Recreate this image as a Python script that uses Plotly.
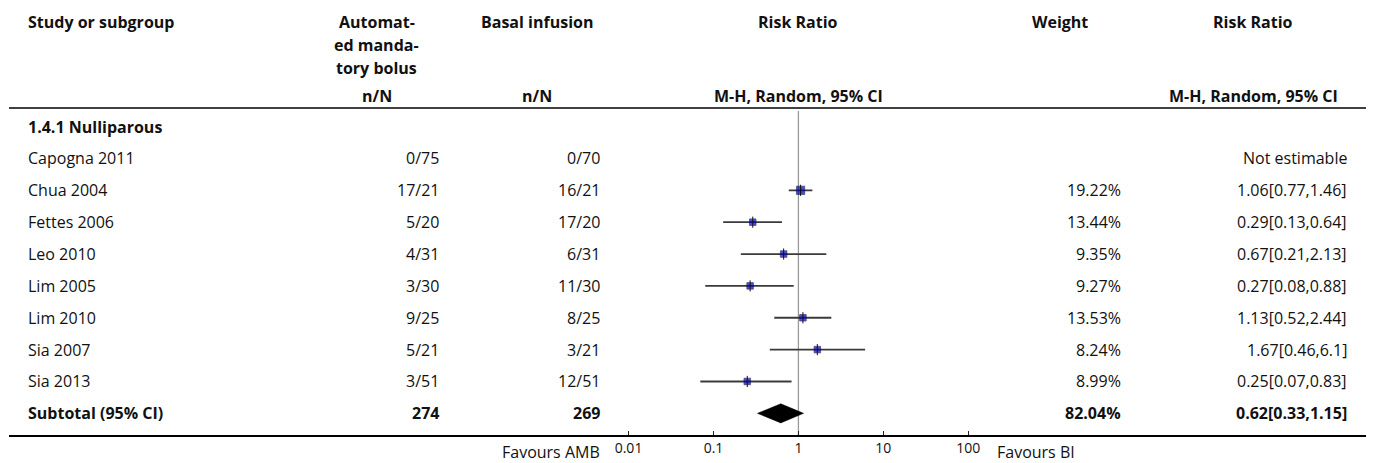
import math
import plotly.graph_objects as go

# ---------------- data ----------------
studies = ["Capogna 2011", "Chua 2004", "Fettes 2006", "Leo 2010", "Lim 2005",
           "Lim 2010", "Sia 2007", "Sia 2013"]
amb_nN = ["0/75", "17/21", "5/20", "4/31", "3/30", "9/25", "5/21", "3/51"]
bi_nN = ["0/70", "16/21", "17/20", "6/31", "11/30", "8/25", "3/21", "12/51"]
weights = [None, 19.22, 13.44, 9.35, 9.27, 13.53, 8.24, 8.99]
rr = [None, 1.06, 0.29, 0.67, 0.27, 1.13, 1.67, 0.25]
ci_lo = [None, 0.77, 0.13, 0.21, 0.08, 0.52, 0.46, 0.07]
ci_hi = [None, 1.46, 0.64, 2.13, 0.88, 2.44, 6.1, 0.83]

subgroup = "1.4.1 Nulliparous"
sub_amb_total = 274
sub_bi_total = 269
sub_weight = 82.04
sub_rr, sub_lo, sub_hi = 0.62, 0.33, 1.15

tick_vals = [0.01, 0.1, 1, 10, 100]
tick_text = ["0.01", "0.1", "1", "10", "100"]
left_label = "Favours AMB"
right_label = "Favours BI"

# ---------------- geometry helpers ----------------
OFF = 8                      # page body margin
W, H = 1375 - OFF, 463 - OFF
FONT = "Open Sans, Noto Sans, sans-serif"
TXT = "#111111"
FS = 16

def px(x):  # screen pixel -> paper x
    return (x - OFF) / W

AXIS_Y = 436
def py(y):  # screen pixel -> paper y
    return (H - (y - OFF)) / H

ROW0 = 126.6   # screen pixel centre of the subgroup heading row
ROWH = 31.86
y_top = (OFF - ROW0) / ROWH
y_bot = (AXIS_Y - ROW0) / ROWH

# rows: subgroup heading = 0, studies 1..8, subtotal 9
study_rows = [i + 1 for i in range(len(studies))]
sub_row = len(studies) + 1

fig = go.Figure()

# CI lines
cx, cy = [], []
for r, lo, hi in zip(study_rows, ci_lo, ci_hi):
    if lo is None:
        continue
    cx += [lo, hi, None]
    cy += [r, r, None]
fig.add_trace(go.Scatter(x=cx, y=cy, mode="lines",
                         line=dict(color="#3a3a3a", width=1.8),
                         hoverinfo="skip", showlegend=False))

# squares
sx = [v for v in rr if v is not None]
sy = [r for r, v in zip(study_rows, rr) if v is not None]
sw = [w for w in weights if w is not None]
sizes = [max(6.5, w * 0.43) for w in sw]
fig.add_trace(go.Scatter(x=sx, y=sy, mode="markers",
                         marker=dict(symbol="square", size=sizes, color="#0000cc",
                                     line=dict(width=0.8, color="#000033")),
                         hoverinfo="skip", showlegend=False))
# point estimate tick
fig.add_trace(go.Scatter(x=sx, y=sy, mode="markers",
                         marker=dict(symbol="line-ns", size=8,
                                     line=dict(width=1, color="#111111")),
                         hoverinfo="skip", showlegend=False))

# diamond
dh = 0.3
fig.add_trace(go.Scatter(x=[sub_lo, sub_rr, sub_hi, sub_rr, sub_lo],
                         y=[sub_row, sub_row - dh, sub_row, sub_row + dh, sub_row],
                         mode="lines", fill="toself", fillcolor="#000000",
                         line=dict(color="#000000", width=0.5),
                         hoverinfo="skip", showlegend=False))

ann = []
def text(x, y, s, xanchor="left", bold=False, yref="paper", size=FS):
    ann.append(dict(x=x, y=y, xref="paper", yref=yref, text=("<b>%s</b>" % s) if bold else s,
                    showarrow=False, xanchor=xanchor, yanchor="middle",
                    font=dict(family=FONT, size=size, color=TXT)))

# column positions (screen pixels)
C1L = 22
C2C, C2R = 374, 439
C3C, C3R = 535, 600
C4C = 797
C5C, C5R = 1060, 1123
C6C, C6R = 1254, 1350

# header
text(px(C1L), py(22), "Study or subgroup", bold=True)
text(px(C2C), py(22), "Automat-", "center", True)
text(px(C2C), py(45), "ed manda-", "center", True)
text(px(C2C), py(68), "tory bolus", "center", True)
text(px(C3C), py(22), "Basal infusion", "center", True)
text(px(C4C), py(22), "Risk Ratio", "center", True)
text(px(C5C), py(22), "Weight", "center", True)
text(px(C6C), py(22), "Risk Ratio", "center", True)
text(px(C2C), py(96), "n/N", "center", True)
text(px(C3C), py(96), "n/N", "center", True)
text(px(C4C), py(96), "M-H, Random, 95% CI", "center", True)
text(px(C6C), py(96), "M-H, Random, 95% CI", "center", True)

# subgroup heading
text(px(C1L), 0, subgroup, bold=True, yref="y")

# study rows
for r, name, a, b, w, e, lo, hi in zip(study_rows, studies, amb_nN, bi_nN, weights, rr, ci_lo, ci_hi):
    text(px(C1L), r, name, yref="y")
    text(px(C2R), r, a, "right", yref="y")
    text(px(C3R), r, b, "right", yref="y")
    if w is None:
        text(px(C6R), r, "Not estimable", "right", yref="y")
    else:
        text(px(C5R), r, f"{w:.2f}%", "right", yref="y")
        text(px(C6R), r, f"{e:g}[{lo:g},{hi:g}]", "right", yref="y")

# subtotal
text(px(C1L), sub_row, "Subtotal (95% CI)", bold=True, yref="y")
text(px(C2R), sub_row, str(sub_amb_total), "right", True, yref="y")
text(px(C3R), sub_row, str(sub_bi_total), "right", True, yref="y")
text(px(C5R), sub_row, f"{sub_weight:.2f}%", "right", True, yref="y")
text(px(C6R), sub_row, f"{sub_rr:g}[{sub_lo:g},{sub_hi:g}]", "right", True, yref="y")

# favours labels
text(px(C3R), py(452), left_label, "right", size=16)
text(px(995), py(452), right_label, "left", size=16)

shapes = [
    dict(type="line", xref="paper", yref="paper", x0=px(5), x1=px(1367),
         y0=py(108), y1=py(108), line=dict(color="#000000", width=1.5)),
    dict(type="line", xref="paper", yref="paper", x0=px(5), x1=px(1367),
         y0=py(AXIS_Y), y1=py(AXIS_Y), line=dict(color="#000000", width=1.8)),
    dict(type="line", xref="x", yref="paper", x0=1, x1=1,
         y0=py(111), y1=py(AXIS_Y), line=dict(color="#999999", width=1.3),
         layer="below"),
]

DEC = 85.25
X1 = 797.3
lx0 = (617.0 - X1) / DEC
lx1 = (979.0 - X1) / DEC

fig.update_layout(
    width=W, height=H,
    margin=dict(l=0, r=0, t=0, b=0),
    paper_bgcolor="white", plot_bgcolor="white",
    showlegend=False,
    annotations=ann,
    shapes=shapes,
    xaxis=dict(type="log", range=[lx0, lx1], domain=[px(617.0), px(979.0)],
               tickvals=tick_vals, ticktext=tick_text, ticks="inside", ticklen=5,
               tickcolor="#222222", tickwidth=1, showgrid=False, zeroline=False,
               showline=False, tickfont=dict(family=FONT, size=14, color=TXT),
               ticklabelstandoff=2, fixedrange=True),
    yaxis=dict(range=[y_bot, y_top], domain=[py(AXIS_Y), 1], visible=False,
               showgrid=False, zeroline=False, fixedrange=True),
)

fig.write_html("out.html")
